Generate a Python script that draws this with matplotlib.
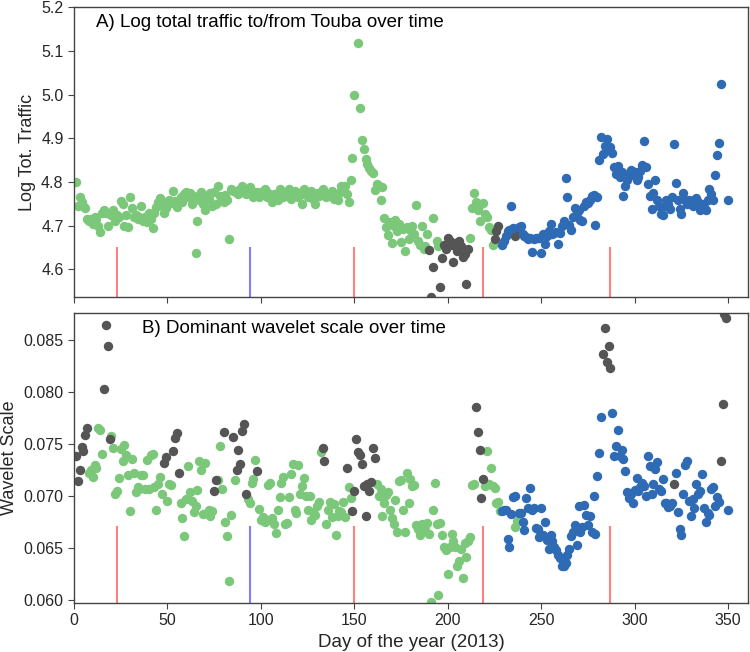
import numpy as np
import matplotlib
matplotlib.use("Agg")
import matplotlib.pyplot as plt

plt.rcParams["font.family"] = ["Liberation Sans", "DejaVu Sans"]

GREEN = "#7bc87b"
GRAY = "#555555"
BLUE = "#2f6bb5"
LINE_RED = "#ff8080"
LINE_BLUE = "#8080ff"

# ---- Panel A: log total traffic ----
top_green_day = list(range(1, 147)) + [
    147, 148, 149, 150, 152, 153, 154, 155, 156, 157, 158, 159, 160, 161, 162, 163,
    164, 165, 166, 167, 168, 169, 170, 171, 172, 173, 174, 175, 176, 177, 178, 179,
    180, 181, 182, 183, 184, 185, 186, 187, 188, 189, 192, 194, 195,
    212, 213, 214, 215, 216, 217, 218, 219, 220, 221, 222, 223, 224]
top_green_val = [
    4.80, 4.745, 4.765, 4.755, 4.745, 4.74, 4.715, 4.71, 4.715, 4.705,
    4.72, 4.715, 4.70, 4.685, 4.73, 4.735, 4.73, 4.70, 4.73, 4.725,
    4.735, 4.71, 4.725, 4.72, 4.757, 4.75, 4.70, 4.725, 4.698, 4.765,
    4.74, 4.72, 4.725, 4.715, 4.72, 4.745, 4.71, 4.72, 4.708, 4.728,
    4.715, 4.695, 4.73, 4.742, 4.755, 4.763, 4.745, 4.73, 4.74, 4.754,
    4.76, 4.752, 4.78, 4.757, 4.742, 4.76, 4.765, 4.754, 4.773,
    4.777, 4.765, 4.776, 4.75, 4.769, 4.637, 4.71, 4.758, 4.777, 4.75,
    4.735, 4.768, 4.762, 4.776, 4.746, 4.777, 4.75, 4.792, 4.769, 4.762,
    4.754, 4.77, 4.76, 4.669, 4.785, 4.78, 4.78, 4.775, 4.773, 4.785,
    4.792, 4.777, 4.773, 4.782, 4.788, 4.78, 4.766, 4.772, 4.777, 4.766,
    4.777, 4.772, 4.785, 4.766, 4.775, 4.769, 4.754, 4.773, 4.768, 4.758,
    4.785, 4.773, 4.766, 4.77, 4.777, 4.785, 4.762, 4.773, 4.78, 4.777,
    4.766, 4.77, 4.75, 4.785, 4.773, 4.766, 4.772, 4.78, 4.762, 4.75,
    4.775, 4.769, 4.777, 4.785, 4.773, 4.766, 4.77, 4.773, 4.78, 4.762,
    4.773, 4.758, 4.775, 4.79, 4.782, 4.79, 4.772,
    4.754, 4.804, 4.855, 4.998, 5.118, 4.969, 4.897, 4.875, 4.853, 4.842, 4.833, 4.826,
    4.82, 4.782, 4.796, 4.79, 4.758, 4.788, 4.718, 4.697, 4.678, 4.708, 4.66, 4.70,
    4.712, 4.689, 4.705, 4.663, 4.693, 4.643, 4.697, 4.669, 4.69, 4.70, 4.682, 4.748,
    4.666, 4.655, 4.70, 4.647, 4.653, 4.68, 4.718, 4.665, 4.653,
    4.672, 4.74, 4.775, 4.755, 4.735, 4.71, 4.75, 4.752, 4.727, 4.72, 4.697, 4.69, 4.656]

top_gray_day = [190, 191, 192, 196, 197, 198, 199, 200, 201, 202, 203, 204, 205,
                206, 207, 208, 209, 210, 211, 225, 226, 227, 236, 237]
top_gray_val = [4.645, 4.537, 4.605, 4.56, 4.626, 4.655, 4.647, 4.672, 4.666, 4.655,
                4.618, 4.66, 4.643, 4.664, 4.654, 4.629, 4.635, 4.567, 4.646,
                4.669, 4.689, 4.70, 4.677, 4.692]

top_blue_day = list(range(229, 236)) + list(range(238, 347)) + [350]
top_blue_val = [
    4.655, 4.666, 4.677, 4.689, 4.69, 4.745, 4.695,
    4.698, 4.70, 4.68, 4.677, 4.674, 4.67, 4.672, 4.639, 4.67, 4.673,
    4.672, 4.673, 4.637, 4.682, 4.658, 4.677, 4.689, 4.705, 4.68, 4.684,
    4.685, 4.658, 4.684, 4.70, 4.71, 4.81, 4.766, 4.702, 4.69, 4.72,
    4.74, 4.729, 4.736, 4.712, 4.711, 4.745, 4.754, 4.752, 4.76, 4.769,
    4.771, 4.701, 4.766, 4.851, 4.902, 4.863, 4.882, 4.899, 4.874, 4.881,
    4.866, 4.834, 4.819, 4.836, 4.811, 4.823, 4.769, 4.792, 4.804, 4.819,
    4.827, 4.815, 4.823, 4.804, 4.811, 4.825, 4.838, 4.893, 4.834, 4.796,
    4.769, 4.739, 4.775, 4.804, 4.759, 4.745, 4.727, 4.724, 4.746, 4.758,
    4.75, 4.739, 4.765, 4.886, 4.798, 4.758, 4.739, 4.727, 4.775, 4.758,
    4.75, 4.76, 4.754, 4.746, 4.759, 4.764, 4.755, 4.737, 4.749, 4.743,
    4.737, 4.759, 4.785, 4.773, 4.76, 4.815, 4.862, 4.89, 5.025,
    4.758]

# ---- Panel B: dominant wavelet scale ----
bot_green_day = (list(range(8, 16)) + list(range(20, 48)) + list(range(50, 53))
                 + list(range(57, 75)) + list(range(77, 80)) + list(range(81, 85)) + [86]
                 + list(range(93, 98)) + list(range(99, 133)) + list(range(135, 146))
                 + [147, 148] + list(range(162, 215)) + list(range(220, 229)) + [236, 237])
bot_green_val = [
    0.0722, 0.0725, 0.0718, 0.0729, 0.0727, 0.0765, 0.0763, 0.074,
    0.0757, 0.0746, 0.0702, 0.0704, 0.0717, 0.0745, 0.0733, 0.0749, 0.0739, 0.072,
    0.0685, 0.0735, 0.0722, 0.0703, 0.0708, 0.0706, 0.072, 0.072, 0.0706, 0.0734,
    0.0706, 0.0739, 0.074, 0.0708, 0.0686, 0.0711, 0.0718, 0.0702,
    0.0695, 0.0711, 0.071,
    0.0693, 0.0678, 0.0661, 0.0697, 0.0728, 0.0703, 0.0695, 0.0684, 0.069, 0.0705,
    0.0733, 0.0725, 0.0682, 0.0731, 0.0683, 0.0686, 0.068, 0.0685,
    0.0715, 0.0748, 0.0706,
    0.0675, 0.0661, 0.0618, 0.0681,
    0.0715,
    0.0697, 0.0693, 0.0712, 0.0716, 0.0734,
    0.0687, 0.0677, 0.0679, 0.0675, 0.0677, 0.071, 0.0712, 0.0678, 0.0673, 0.0664,
    0.0686, 0.0699, 0.0712, 0.0718, 0.0673, 0.0674, 0.0699, 0.0721, 0.073, 0.0686,
    0.0683, 0.0729, 0.0702, 0.0709, 0.0717, 0.07, 0.0686, 0.07, 0.0677, 0.0684,
    0.0681, 0.069, 0.0694, 0.0742,
    0.0673, 0.0686, 0.0694, 0.0679, 0.0692, 0.0662, 0.068, 0.0685, 0.0684, 0.0694, 0.0679,
    0.0708, 0.0698,
    0.0711, 0.07, 0.0706, 0.068, 0.0693, 0.0701, 0.0703, 0.0686, 0.0678, 0.0673,
    0.0696, 0.0665, 0.0714, 0.0715, 0.0686, 0.0665, 0.0722, 0.0693, 0.0716, 0.0709,
    0.071, 0.0672, 0.0668, 0.0662, 0.0673, 0.067, 0.0667, 0.0674, 0.0663, 0.0598,
    0.0686, 0.0712, 0.0673, 0.0604, 0.0674, 0.0662, 0.0651, 0.0648, 0.0625, 0.0651,
    0.0663, 0.0656, 0.0651, 0.0632, 0.0637, 0.0649, 0.0621, 0.0654, 0.0641, 0.0656,
    0.066, 0.071, 0.0711,
    0.0709, 0.0743, 0.0711, 0.0727, 0.0709, 0.0707, 0.0693, 0.0694, 0.0685,
    0.067, 0.0676]

bot_gray_day = [1, 2, 3, 4, 5, 6, 7, 16, 17, 18, 19, 48, 49, 53, 54, 55, 56, 75, 76,
                80, 85, 87, 88, 89, 90, 91, 92, 98, 133, 134, 146, 149, 150, 151, 152,
                153, 154, 155, 156, 157, 158, 159, 160, 161, 215, 216, 217, 218, 219,
                283, 284, 285, 286, 287, 321, 346, 347, 348, 349]
bot_gray_val = [0.0738, 0.0714, 0.0725, 0.0747, 0.0743, 0.0758, 0.0765, 0.0803, 0.0864,
                0.0844, 0.0754, 0.0731, 0.0737, 0.0743, 0.0755, 0.076, 0.0722, 0.0704,
                0.0715, 0.0761, 0.0756, 0.0725, 0.0744, 0.073, 0.0762, 0.0769, 0.0702,
                0.0724, 0.0746, 0.0733, 0.0727, 0.0685, 0.0704, 0.0754, 0.0742, 0.0739,
                0.073, 0.0709, 0.068, 0.0711, 0.0704, 0.0713, 0.0746, 0.0736, 0.0785,
                0.0761, 0.0744, 0.0698, 0.0716, 0.0836, 0.0861, 0.0829, 0.0844, 0.0823,
                0.0711, 0.0733, 0.0788, 0.0875, 0.0871]

bot_blue_day = (list(range(229, 237)) + list(range(238, 283)) + list(range(288, 321))
                + list(range(322, 346)) + [350])
bot_blue_val = [
    0.0685, 0.0686, 0.0686, 0.0658, 0.0651, 0.0682, 0.0699, 0.070,
    0.0683, 0.0683, 0.0675, 0.0667, 0.0698, 0.0688, 0.0707, 0.0686, 0.0688, 0.0669,
    0.0668, 0.066, 0.0688, 0.0662, 0.0675, 0.0657, 0.0649, 0.0662, 0.0656, 0.0651,
    0.0648, 0.0643, 0.064, 0.0632, 0.0632, 0.0635, 0.0643, 0.0649, 0.0661, 0.0665,
    0.0672, 0.0652, 0.069, 0.0665, 0.067, 0.0691, 0.0681, 0.0672, 0.068, 0.0665,
    0.070, 0.0663, 0.0719, 0.0741, 0.0776,
    0.0779, 0.0738, 0.0748, 0.0763, 0.0738, 0.0744, 0.0735, 0.0724, 0.0703, 0.0698,
    0.0702, 0.0693, 0.0705, 0.0717, 0.0704, 0.0708, 0.0712, 0.0709, 0.07, 0.0738,
    0.0728, 0.0702, 0.0711, 0.0726, 0.0732, 0.0706, 0.0704, 0.0716, 0.0693, 0.0693,
    0.0689, 0.069, 0.0693,
    0.0722, 0.0684, 0.0668, 0.0662, 0.0702, 0.0729, 0.0733, 0.0695, 0.068, 0.0697,
    0.0688, 0.0711, 0.0702, 0.0704, 0.0721, 0.0688, 0.0675, 0.0683, 0.0681, 0.0706,
    0.0708, 0.069, 0.0699, 0.0694,
    0.0686]

# event markers (day, colour)
event_day = [23, 94, 150, 219, 287]
event_col = [LINE_RED, LINE_BLUE, LINE_RED, LINE_RED, LINE_RED]

fig = plt.figure(figsize=(7.5, 6.52), dpi=100)
ax1 = fig.add_axes([0.0987, 0.5445, 0.8983, 0.4445])
ax2 = fig.add_axes([0.0987, 0.0752, 0.8983, 0.4448])


def draw_panel(ax, green, gray, blue, ylim, line_top, title, title_x):
    ax.vlines(event_day, ylim[0], line_top, colors=event_col, linewidth=1.5, zorder=1)
    for (d, v), c in zip([green, gray, blue], [GREEN, GRAY, BLUE]):
        ax.scatter(d, v, s=46, color=c, linewidths=0, zorder=2)
    ax.set_xlim(0, 360.5)
    ax.set_ylim(*ylim)
    ax.text(title_x, 0.975, title, transform=ax.transAxes, fontsize=13.5,
            va="top", ha="left")
    for sp in ax.spines.values():
        sp.set_color("#444444")
        sp.set_linewidth(1.0)
    ax.tick_params(direction="out", length=4, color="#444444",
                   labelsize=11.5, labelcolor="#262626")
    ax.set_xticks(np.arange(0, 351, 50))


draw_panel(ax1, (top_green_day, top_green_val), (top_gray_day, top_gray_val),
           (top_blue_day, top_blue_val), (4.537, 5.2), 4.652,
           "A) Log total traffic to/from Touba over time", 0.032)
ax1.set_yticks(np.arange(4.6, 5.21, 0.1))
ax1.set_yticklabels([f"{t:.1f}" for t in np.arange(4.6, 5.21, 0.1)])
ax1.set_xticklabels([])
ax1.set_ylabel("Log Tot. Traffic", fontsize=13, color="#262626")

draw_panel(ax2, (bot_green_day, bot_green_val), (bot_gray_day, bot_gray_val),
           (bot_blue_day, bot_blue_val), (0.05967, 0.08757), 0.0671,
           "B) Dominant wavelet scale over time", 0.101)
ax2.set_yticks(np.arange(0.060, 0.0851, 0.005))
ax2.set_yticklabels([f"{t:.3f}" for t in np.arange(0.060, 0.0851, 0.005)])
ax2.set_ylabel("Wavelet Scale", fontsize=13, color="#262626")
ax2.set_xlabel("Day of the year (2013)", fontsize=13.5, color="#262626")

fig.savefig("out.png", dpi=100)
